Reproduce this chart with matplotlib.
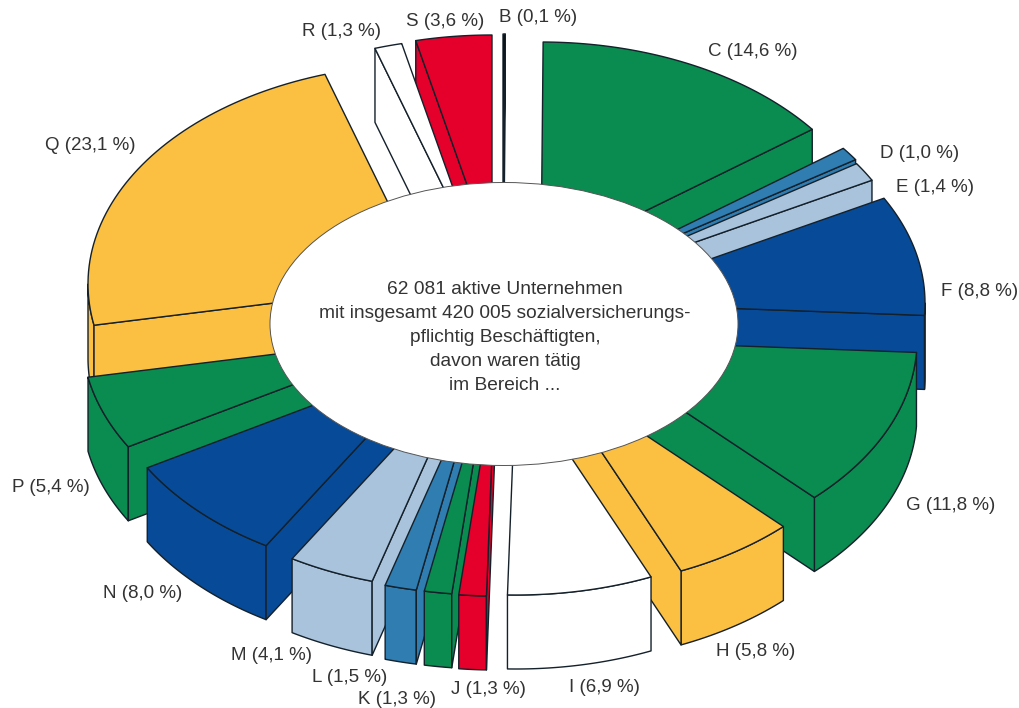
import numpy as np
import matplotlib
matplotlib.use("Agg")
import matplotlib.pyplot as plt
from matplotlib.patches import Ellipse, Polygon

plt.rcParams['font.family'] = ['Liberation Sans', 'DejaVu Sans']

# Employment share per economic section, clockwise from twelve o'clock
sections = ["B", "C", "D", "E", "F", "G", "H", "I", "J", "K", "L", "M", "N", "P", "Q", "R", "S"]
shares = [0.1, 14.6, 1.0, 1.4, 8.8, 11.8, 5.8, 6.9, 1.3, 1.3, 1.5, 4.1, 8.0, 5.4, 23.1, 1.3, 3.6]

GREEN, NAVY, STEEL, PALE = "#0A8B50", "#074B98", "#2F7DB1", "#A8C3DB"
AMBER, RED, WHITE, BLACK = "#FBC042", "#E4002B", "#FFFFFF", "#000000"
colors = [BLACK, GREEN, STEEL, PALE, NAVY, GREEN, AMBER, WHITE, RED, GREEN,
          STEEL, PALE, NAVY, GREEN, AMBER, WHITE, RED]

# Where each pulled-out slice has its tip
tip_x = [503, 541, 572, 573, 585, 577, 546, 516, 495, 488, 480, 467, 441, 422, 428, 478, 492]
tip_y = [254, 262, 281, 285, 303, 340, 369, 375, 376, 375, 374, 370, 357, 336, 284, 258, 255]

# Slices are painted back to front
paint_order = ["B", "S", "R", "C", "D", "E", "Q", "F", "P", "G", "N", "H", "M", "L", "K", "J", "I"]

RADIUS_X, RADIUS_Y, DEPTH = 340, 220, 74
HOLE_X, HOLE_Y, HOLE_W, HOLE_H = 504, 324, 468, 283
LABEL_SIZE, CENTRE_SIZE = 13.5, 13.8

# Label anchors: left edge and vertical centre
label_x = [499, 708, 880, 896, 941, 906, 716, 569, 451, 358, 312, 231, 103, 12, 45, 302, 406]
label_y = [18, 51, 154, 187, 292, 506, 651, 687, 689, 699, 677, 655, 594, 487, 145, 32, 22]

centre_lines = [
    "62 081 aktive Unternehmen",
    "mit insgesamt 420 005 sozialversicherungs-",
    "pflichtig Beschäftigten,",
    "davon waren tätig",
    "im Bereich ...",
]
centre_y = [290, 313, 338, 362, 386]
TEXT_COLOR = "#333333"
EDGE_COLOR = "#14202A"

fig = plt.figure(figsize=(10.2, 7.08), dpi=100)
ax = fig.add_axes([0, 0, 1, 1])
ax.set_xlim(0, 1020)
ax.set_ylim(708, 0)
ax.axis("off")

boundaries = np.cumsum([0.0] + shares) / sum(shares) * 2 * np.pi
drop = np.array([0.0, DEPTH])


def rim(i, start, stop):
    """Outer arc of slice i between two angles, on the top surface."""
    t = np.linspace(start, stop, 60)
    return np.column_stack((tip_x[i] + RADIUS_X * np.sin(t), tip_y[i] - RADIUS_Y * np.cos(t)))


def face(points, color):
    ax.add_patch(Polygon(points, closed=True, facecolor=color, edgecolor=EDGE_COLOR,
                         linewidth=1.0, joinstyle="round"))


def cross(a, b):
    return a[0] * b[1] - a[1] * b[0]


for name in paint_order:
    i = sections.index(name)
    a0, a1 = boundaries[i], boundaries[i + 1]
    c = colors[i]
    arc = rim(i, a0, a1)
    tip = np.array([tip_x[i], tip_y[i]], dtype=float)

    # Outer wall shows only on the near half of the ring
    lo, hi = max(a0, np.pi / 2), min(a1, 3 * np.pi / 2)
    if hi > lo:
        wall = rim(i, lo, hi)
        face(np.vstack((wall, wall[::-1] + drop)), c)

    # A cut face shows only if dropping its edge moves it off the top surface
    for corner, other in ((arc[0], arc[-1]), (arc[-1], arc[0])):
        edge = corner - tip
        if cross(edge, drop) * cross(edge, other - tip) < 0:
            face(np.vstack((tip, corner, corner + drop, tip + drop)), c)

    face(np.vstack((tip, arc)), c)

ax.add_patch(Ellipse((HOLE_X, HOLE_Y), HOLE_W, HOLE_H, facecolor="white",
                     edgecolor="#555555", linewidth=0.7, zorder=5))

for line, y in zip(centre_lines, centre_y):
    ax.text(HOLE_X + 1, y, line, ha="center", va="center", fontsize=CENTRE_SIZE,
            color=TEXT_COLOR, zorder=6)

for name, share, x, y in zip(sections, shares, label_x, label_y):
    text = f"{name} ({share:.1f} %)".replace(".", ",")
    ax.text(x, y, text, ha="left", va="center", fontsize=LABEL_SIZE, color=TEXT_COLOR, zorder=6)

fig.savefig("out.png", dpi=100)
